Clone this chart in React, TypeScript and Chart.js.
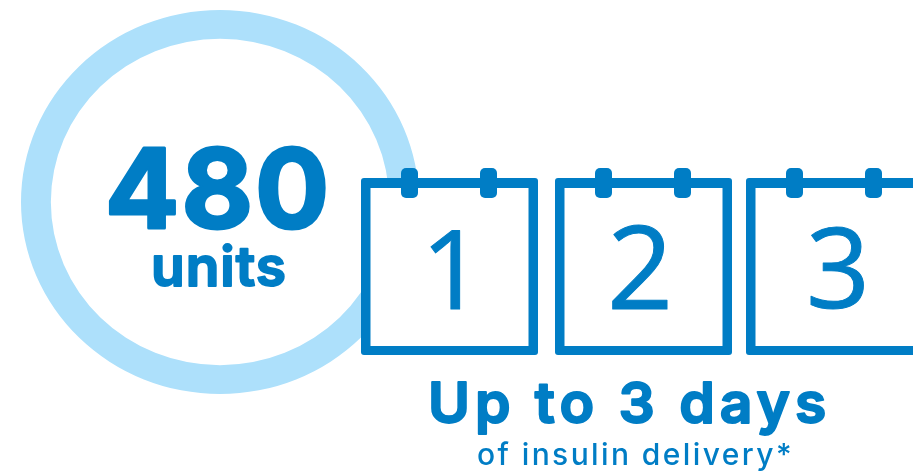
import React, { useEffect, useRef } from "react";
import { Chart, registerables } from "chart.js";

Chart.register(...registerables);

const ringLabels = ["Units"];
const ringValues = [480];
const ringColors = ["#ade0fb"];
const dayLabels = ["1", "2", "3"];
const BLUE = "#007dc5";

function rr(ctx: CanvasRenderingContext2D, x: number, y: number, w: number, h: number, r: number) {
  ctx.beginPath();
  ctx.roundRect(x, y, w, h, r);
}

function text(ctx: any, s: string, x: number, y: number, font: string, spacing = 0, stroke = 0) {
  ctx.font = font;
  ctx.letterSpacing = spacing + "px";
  ctx.fillStyle = BLUE;
  ctx.textAlign = "left";
  ctx.textBaseline = "alphabetic";
  if (stroke > 0) {
    ctx.strokeStyle = BLUE;
    ctx.lineWidth = stroke;
    ctx.lineJoin = "round";
    ctx.strokeText(s, x, y);
  }
  ctx.fillText(s, x, y);
  ctx.letterSpacing = "0px";
}

const RING_CX = 220;
const RING_STRETCH = 199 / 192;

const ellipse = {
  id: "ellipse",
  beforeDatasetsDraw(chart: any) {
    const ctx = chart.ctx;
    ctx.save();
    ctx.translate(RING_CX, 0);
    ctx.scale(RING_STRETCH, 1);
    ctx.translate(-RING_CX, 0);
  },
  afterDatasetsDraw(chart: any) {
    chart.ctx.restore();
  },
};

const overlay = {
  id: "overlay",
  afterDraw(chart: any) {
    const ctx = chart.ctx;
    ctx.save();
    const lefts = [361, 555, 746];
    const digitX = [421, 607, 806];
    const digitSize = [110, 116, 112];
    dayLabels.forEach((d, i) => {
      const x = lefts[i];
      rr(ctx, x, 178, 177, 177, 3);
      ctx.fillStyle = BLUE;
      ctx.fill();
      ctx.fillStyle = "#fff";
      ctx.fillRect(x + 9.5, 188, 158, 158);
      ctx.fillStyle = BLUE;
      [40, 119].forEach((off) => {
        rr(ctx, x + off, 168, 17, 30, 5);
        ctx.fill();
      });
      text(ctx, d, digitX[i], i === 2 ? 308 : 309, `400 ${digitSize[i]}px 'Open Sans'`, 0, 1);
    });
    text(ctx, "480", 105, 228, "700 110px Inter", 2, 3);
    text(ctx, "units", 151, 286, "600 55px Inter", 1, 2);
    text(ctx, "Up to 3 days", 428, 423, "600 57px Inter", 5, 2);
    text(ctx, "of insulin delivery*", 477, 465, "500 30px Inter", 2.4);
    ctx.restore();
  },
};

export default function App() {
  const ref = useRef<HTMLCanvasElement>(null);
  useEffect(() => {
    document.body.style.margin = "0";
    document.body.style.background = "#fff";
    const chart = new Chart(ref.current!, {
      type: "doughnut",
      data: {
        labels: ringLabels,
        datasets: [{ data: ringValues, backgroundColor: ringColors, borderWidth: 0 }],
      },
      options: {
        animation: false,
        responsive: false,
        cutout: "85%",
        layout: { padding: { left: 28, right: 501, top: 10, bottom: 77 } },
        plugins: { legend: { display: false }, tooltip: { enabled: false } },
      },
      plugins: [ellipse, overlay],
    });
    return () => chart.destroy();
  }, []);
  return <canvas ref={ref} width={913} height={471} style={{ display: "block" }} />;
}
